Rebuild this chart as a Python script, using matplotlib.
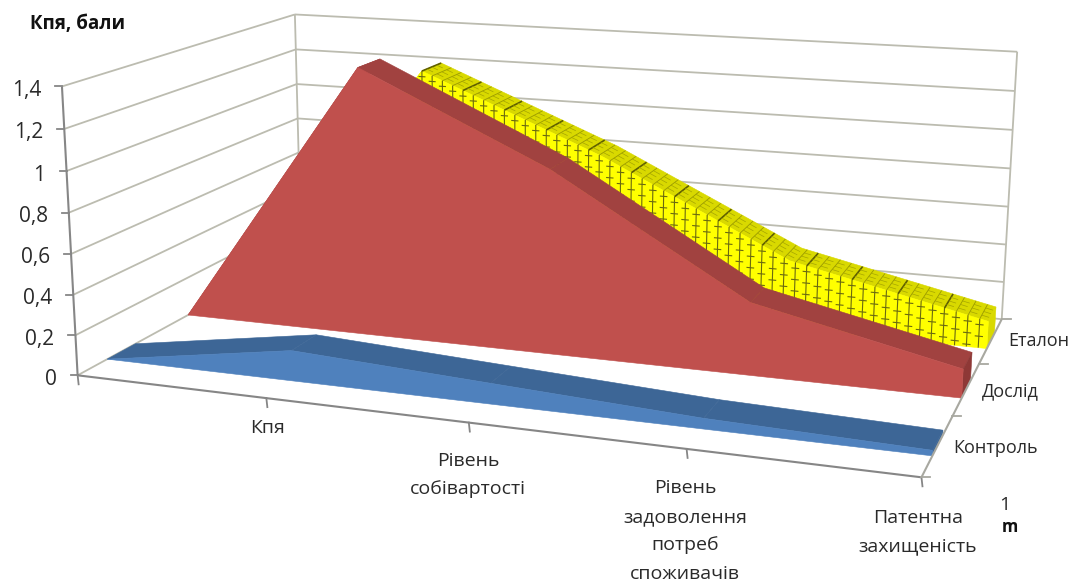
import numpy as np
import matplotlib
matplotlib.use('Agg')
import matplotlib.pyplot as plt
from matplotlib.patches import Polygon

plt.rcParams['font.family'] = ['Open Sans', 'DejaVu Sans']

# Chart data
categories = ['Кпя', 'Рівень\nсобівартості', 'Рівень\nзадоволення\nпотреб\nспоживачів', 'Патентна\nзахищеність']
series_names = ['Контроль', 'Дослід', 'Еталон']
positions = [0, 0.25, 0.5, 0.75, 1]
control = [0, 0.15, 0.10, 0.05, 0.025]
experiment = [0, 1.37, 0.93, 0.36, 0.14]
standard = [0, 1.22, 0.83, 0.36, 0.14]
z_ticks = [0, 0.2, 0.4, 0.6, 0.8, 1, 1.2, 1.4]
z_labels = ['0', '0,2', '0,4', '0,6', '0,8', '1', '1,2', '1,4']

# Camera fitted to the corners of the chart box: (x, depth, value) -> pixel
box_3d = [(0, 0, 0), (0, 0, 1.4), (0, 1, 1.4), (0, 1, 0), (1, 1, 1.4), (1, 1, 0), (1, 0, 0),
          (1, 1/3, 0), (1, 2/3, 0), (0.25, 0, 0), (0.5, 0, 0), (0.75, 0, 0)]
box_px = [(78, 373), (62, 87), (295, 12), (301, 257), (1017, 54), (1000, 316), (919, 477),
          (957, 417), (980, 363), (267, 397), (468, 423), (685, 452)]
rows = []
rhs = []
for (X, Y, Z), (u, v) in zip(box_3d, box_px):
    rows.append([X, Y, Z, 1, 0, 0, 0, 0, -u*X, -u*Y, -u*Z])
    rows.append([0, 0, 0, 0, X, Y, Z, 1, -v*X, -v*Y, -v*Z])
    rhs += [u, v]
cam = np.linalg.lstsq(np.array(rows, float), np.array(rhs, float), rcond=None)[0]
cam = np.append(cam, 1).reshape(3, 4)


def proj(x, y, z):
    p = cam @ np.array([x, y, z, 1.0])
    return p[0] / p[2], p[1] / p[2]


fig = plt.figure(figsize=(10.72, 5.82), dpi=100)
ax = fig.add_axes([0, 0, 1, 1])
ax.set_xlim(0, 1072)
ax.set_ylim(582, 0)
ax.axis('off')

grid_color = '#bcbcb0'
axis_color = '#868686'


def line3(a, b, color=grid_color, lw=1.3, z=1, **kw):
    pa, pb = proj(*a), proj(*b)
    ax.plot([pa[0], pb[0]], [pa[1], pb[1]], color=color, lw=lw, zorder=z, solid_capstyle='butt', **kw)


# Walls
for t in z_ticks:
    line3((0, 0, t), (0, 1, t))
    line3((0, 1, t), (1, 1, t))
line3((0, 1, 0), (0, 1, 1.4))
line3((1, 1, 0), (1, 1, 1.4))

# Axis lines and ticks
line3((0, 0, 0), (0, 0, 1.4), color=axis_color, lw=1.5, z=20)
line3((0, 0, 0), (1, 0, 0), color=axis_color, lw=1.5, z=20)
line3((1, 0, 0), (1, 1, 0), color='#a8a8a0', lw=1.5, z=20)
for t, lab in zip(z_ticks, z_labels):
    px, py = proj(0, 0, t)
    ax.plot([px - 7, px], [py, py], color=axis_color, lw=1.3, zorder=20)
    ax.text(px - 21, py + 4, lab, ha='right', va='center', fontsize=15, color='#2a2a2a', zorder=30)
for p in positions:
    px, py = proj(p, 0, 0)
    ax.plot([px, px + 1], [py, py + 9], color=axis_color, lw=1.3, zorder=20)
for k in range(4):
    px, py = proj(1, k / 3, 0)
    ax.plot([px, px + 9], [py, py], color='#a8a8a0', lw=1.3, zorder=20)


def poly(points, color, z):
    ax.add_patch(Polygon([proj(*q) for q in points], closed=True, facecolor=color, edgecolor=color,
                         lw=0.4, zorder=z))


def area(values, k, front, top, side, z):
    y0 = (k + 1/3) / 3
    y1 = (k + 2/3) / 3
    # top surface strips, left to right
    for i in range(len(positions) - 1):
        a, b = positions[i], positions[i + 1]
        poly([(a, y0, values[i]), (b, y0, values[i + 1]), (b, y1, values[i + 1]), (a, y1, values[i])], top, z)
    # right end
    poly([(1, y0, 0), (1, y1, 0), (1, y1, values[-1]), (1, y0, values[-1])], side, z)
    # front face
    pts = [(0, y0, 0)] + [(p, y0, v) for p, v in zip(positions, values)] + [(1, y0, 0)]
    poly(pts, front, z + 1)


area(standard, 2, '#ffff00', '#d9d900', '#d9d900', 5)

# Texture of the yellow series
y0, y1 = 7/9, 8/9
for i, p in enumerate(np.arange(0.25, 1.0, 0.0145)):
    v = np.interp(p, positions, standard)
    dark = i % 4 == 0
    line3((p, y0, v), (p, y1, v), color='#5e5e00' if dark else '#9a9a00', lw=1.2 if dark else 0.6, z=7)
    line3((p, y0, 0), (p, y0, v), color='#6a6a10', lw=0.8, z=7)
    for d in (0.03, 0.09, 0.15, 0.21, 0.27):
        if v - d > 0:
            line3((p - 0.005, y0, v - d), (p + 0.005, y0, v - d), color='#6a6a10', lw=0.8, z=7)
    for f in (0.25, 0.5, 0.75):
        q = y0 + f * (y1 - y0)
        line3((p, q, v), (p + 0.009, q, np.interp(p + 0.009, positions, standard)), color='#a5a500', lw=0.5, z=7)

area(experiment, 1, '#c0504d', '#a14240', '#8e3836', 10)
area(control, 0, '#4f81bd', '#3d6696', '#3d6696', 14)

# Category labels
cat_px = [(268, 428), (468, 475), (685, 531), (918, 532)]
for lab, (px, py) in zip(categories, cat_px):
    ax.text(px, py, lab, ha='center', va='center', fontsize=14, color='#2a2a2a', linespacing=1.75, zorder=30)

# Series labels
for name, (px, py) in zip(series_names, [(953, 448), (982, 391), (1008, 341)]):
    ax.text(px, py, name, ha='left', va='center', fontsize=13, color='#2a2a2a', zorder=30)

# Axis titles
ax.text(30, 24, 'Кпя, бали', ha='left', va='center', fontsize=13.5, fontweight='bold', color='#111111', zorder=30)
ax.text(1005, 505, '1', ha='center', va='center', fontsize=14, color='#2a2a2a', zorder=30)
ax.text(1010, 527, 'm', ha='center', va='center', fontsize=12, fontweight='bold', color='#111111', zorder=30)

fig.savefig('out.png', dpi=100)
